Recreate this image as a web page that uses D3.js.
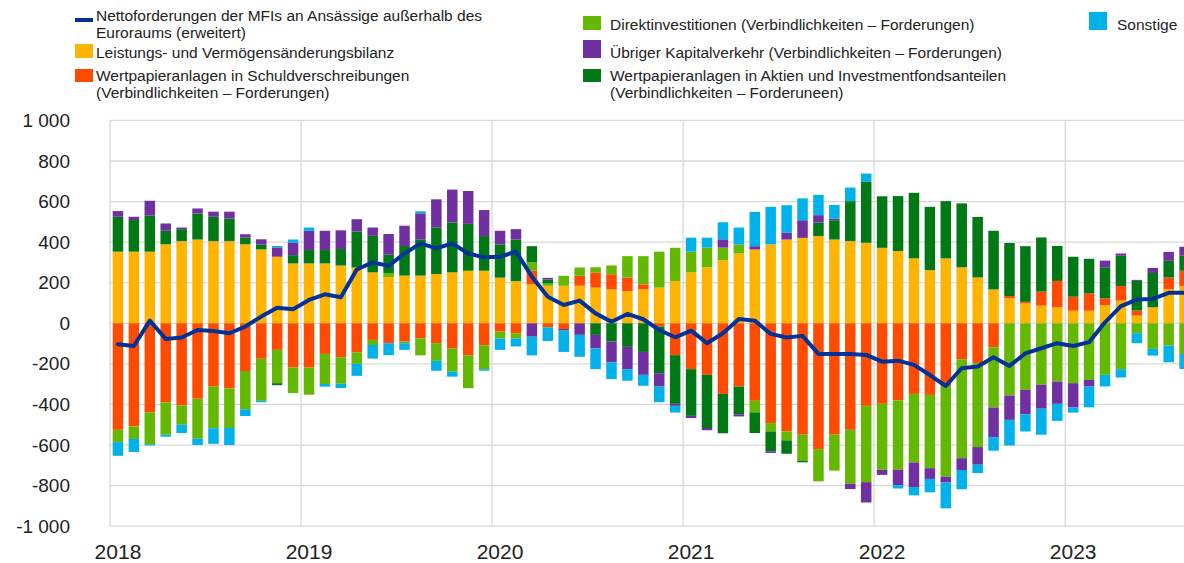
<!DOCTYPE html>
<html>
<head>
<meta charset="utf-8">
<script src="https://cdn.jsdelivr.net/npm/d3@7"></script>
<style>
  body { margin: 0; background: #fff; }
  svg { display: block; font-family: "Liberation Sans", Arial, sans-serif; }
</style>
</head>
<body>
<svg id="chart" width="1184" height="563"></svg>
<script>
// categories: monthly, Jan 2018 - Aug 2023
const years = [2018, 2019, 2020, 2021, 2022, 2023];
const nMonths = 68;

// series values (EUR bn)
const leistung = [353, 353, 353, 389, 405, 413, 405, 405, 389, 364, 328, 295,
  295, 295, 285, 275, 251, 228, 235, 235, 243, 251, 259, 259,
  225, 208, 192, 185, 185, 185, 176, 167, 159, 167, 176, 208,
  251, 276, 312, 344, 364, 389, 413, 421, 430, 413, 405, 397,
  372, 356, 320, 262, 320, 276, 226, 167, 123, 98, 87, 79,
  62, 62, 90, 112, 38, 79, 169, 184];
const schuld = [-525, -508, -440, -390, -405, -372, -312, -321, -235, -175, -131, -218,
  -218, -151, -167, -143, -82, -98, -90, -74, -98, -125, -159, -108,
  -41, -49, 67, -20, -28, 49, 75, 75, 67, 25, -16, -157,
  -226, -254, -348, -312, -382, -492, -533, -549, -620, -549, -525, -407,
  -397, -380, -348, -353, -309, -177, -197, -118, 11, 8, 69, 130,
  69, 85, 33, 72, 25, 0, 57, 75];
const direkt = [-61, -62, -156, -159, -95, -197, -205, -195, -189, -207, -164, -126,
  -134, -148, -131, -57, -25, 20, -8, -84, -87, -113, -161, -118,
  -34, -26, 41, 11, 49, 41, 25, 43, 105, 139, 177, 164,
  102, 97, 61, 44, -57, -41, -44, -128, -159, -177, -266, -376,
  -325, -341, -338, -361, -447, -488, -413, -297, -356, -328, -303, -287,
  -295, -279, -254, -226, -49, -126, -110, -151];
const aktien = [172, 156, 179, 67, 59, 128, 120, 112, 34, 25, -10, 41,
  66, 66, 81, 177, 180, 90, 146, 179, 230, 246, 231, 171,
  164, 205, 80, 20, 0, 0, -57, -90, -116, -141, -230, -240,
  -230, -262, -194, -136, -102, -98, -66, -8, 67, 95, 197, 300,
  254, 271, 323, 312, 282, 315, 298, 289, 262, 274, 267, 172,
  197, 171, 153, 149, 146, 169, 82, 74];
const uebriger = [28, 16, 72, 36, 8, 25, 25, 33, 16, 25, 46, 61,
  95, 95, 92, 61, 41, 102, 100, 128, 138, 162, 162, 128,
  67, 51, -66, 8, -8, -57, -67, -103, -110, -113, -66, -10,
  -11, -11, 41, -11, 16, -8, 33, 87, 36, 8, -26, -100,
  -25, -77, -121, -53, -28, -58, -87, -146, -120, -120, -118, -110,
  -120, -33, 33, 11, 5, 25, 44, 44];
const sonstige = [-67, -64, -6, -10, -41, -31, -77, -84, -33, -7, 7, 16,
  16, -13, -21, -59, -67, -59, -33, 10, -49, -25, 0, -8,
  -56, -39, -92, -67, -105, -108, -102, -82, -57, -54, -77, -33,
  69, 49, 84, 84, 169, 185, 136, 108, 100, 67, 67, 41,
  0, -16, -41, -66, -128, -95, -41, -67, -126, -85, -128, -84,
  -25, -102, -57, -41, -49, -33, -82, -74];
const netto = [-103, -112, 13, -77, -70, -33, -38, -49, -16, 33, 77, 69,
  115, 143, 128, 265, 300, 283, 344, 394, 369, 394, 344, 325,
  328, 353, 230, 131, 90, 112, 49, 8, 46, 20, -33, -69,
  -36, -98, -49, 21, 13, -52, -70, -62, -151, -151, -151, -156,
  -189, -184, -205, -255, -309, -221, -213, -167, -210, -148, -123, -98,
  -112, -93, 5, 85, 117, 120, 150, 150];

const yTicks = [-1000, -800, -600, -400, -200, 0, 200, 400, 600, 800, 1000];

// stacking order (bottom-up) and colours
const stackKeys = ["leistung", "schuld", "direkt", "aktien", "uebriger", "sonstige"];
const colors = {
  leistung: "#ffb400", schuld: "#ff4b00", direkt: "#65b800",
  aktien: "#007816", uebriger: "#7030a0", sonstige: "#00b1ea", netto: "#003299"
};

const months = d3.range(nMonths);
const rows = months.map(i => ({
  i,
  leistung: leistung[i], schuld: schuld[i], direkt: direkt[i],
  aktien: aktien[i], uebriger: uebriger[i], sonstige: sonstige[i]
}));

const svg = d3.select("#chart");
const plotLeft = 110, plotTop = 120.4, plotBottom = 526.2;
const step = 15.92;

const x = d3.scaleBand()
  .domain(months)
  .range([plotLeft, plotLeft + step * nMonths])
  .paddingInner(0.34)
  .paddingOuter(0.17);

const y = d3.scaleLinear().domain([-1000, 1000]).range([plotBottom, plotTop]);

const fmt = d3.formatLocale({ decimal: ",", thousands: " ", grouping: [3], currency: ["", "€"], minus: "-" }).format(",d");

// horizontal grid
svg.append("g")
  .selectAll("line")
  .data(yTicks)
  .join("line")
  .attr("x1", plotLeft).attr("x2", 1184)
  .attr("y1", d => y(d)).attr("y2", d => y(d))
  .attr("stroke", "#d9d9d9").attr("stroke-width", 1.3);

// vertical year lines
svg.append("g")
  .selectAll("line")
  .data(years)
  .join("line")
  .attr("x1", (d, k) => plotLeft + step * 12 * k)
  .attr("x2", (d, k) => plotLeft + step * 12 * k)
  .attr("y1", plotTop).attr("y2", plotBottom)
  .attr("stroke", "#d9d9d9").attr("stroke-width", 1.3);

// y axis labels
const yAxis = svg.append("g")
  .attr("transform", `translate(${plotLeft},0)`)
  .call(d3.axisLeft(y).tickValues(yTicks).tickSize(0).tickPadding(40).tickFormat(fmt));
yAxis.select(".domain").remove();
yAxis.selectAll("text")
  .style("font-size", "19px")
  .style("font-family", "Liberation Sans, Arial, sans-serif")
  .attr("fill", "#222");

// x labels (at January of each year)
svg.append("g")
  .selectAll("text")
  .data(years)
  .join("text")
  .attr("x", (d, k) => x(k * 12) + x.bandwidth() / 2)
  .attr("y", 559)
  .attr("text-anchor", "middle")
  .style("font-size", "21px")
  .attr("fill", "#222")
  .text(d => d);

// stacked bars
const series = d3.stack().keys(stackKeys).offset(d3.stackOffsetDiverging)(rows);

svg.append("g")
  .selectAll("g")
  .data(series)
  .join("g")
  .attr("fill", d => colors[d.key])
  .selectAll("rect")
  .data(d => d)
  .join("rect")
  .attr("x", d => x(d.data.i))
  .attr("width", x.bandwidth())
  .attr("y", d => y(Math.max(d[0], d[1])))
  .attr("height", d => Math.abs(y(d[0]) - y(d[1])));

// net claims line
const line = d3.line()
  .x((d, i) => x(i) + x.bandwidth() / 2)
  .y(d => y(d));

svg.append("path")
  .datum(netto)
  .attr("d", line)
  .attr("fill", "none")
  .attr("stroke", colors.netto)
  .attr("stroke-width", 4)
  .attr("stroke-linejoin", "round")
  .attr("stroke-linecap", "round");

// legend
const legend = svg.append("g").style("font-size", "15.5px").attr("fill", "#222");

const legendItems = [
  { key: "netto", x: 75, sy: 18, sh: 4, lines: ["Nettoforderungen der MFIs an Ansässige außerhalb des", "Euroraums (erweitert)"], ty: 20.5 },
  { key: "leistung", x: 75, sy: 44, sh: 14, lines: ["Leistungs- und Vermögensänderungsbilanz"], ty: 58 },
  { key: "schuld", x: 75, sy: 69, sh: 13, lines: ["Wertpapieranlagen in Schuldverschreibungen", "(Verbindlichkeiten – Forderungen)"], ty: 80.5 },
  { key: "direkt", x: 583, sy: 16, sh: 14, lines: ["Direktinvestitionen (Verbindlichkeiten – Forderungen)"], ty: 29.5 },
  { key: "uebriger", x: 583, sy: 40, sh: 18, lines: ["Übriger Kapitalverkehr (Verbindlichkeiten – Forderungen)"], ty: 57.5 },
  { key: "aktien", x: 583, sy: 69, sh: 13, lines: ["Wertpapieranlagen in Aktien und Investmentfondsanteilen", "(Verbindlichkeiten – Forderuneen)"], ty: 80.5 },
  { key: "sonstige", x: 1089, sy: 12, sh: 18, lines: ["Sonstige"], ty: 29.5 }
];

legendItems.forEach(it => {
  legend.append("rect")
    .attr("x", it.x).attr("y", it.sy)
    .attr("width", 18).attr("height", it.sh)
    .attr("fill", colors[it.key]);
  const tx = it.key === "sonstige" ? it.x + 28 : it.x + (it.x < 500 ? 21 : 27);
  const t = legend.append("text").attr("x", tx).attr("y", it.ty);
  it.lines.forEach((s, k) => {
    t.append("tspan").attr("x", tx).attr("dy", k === 0 ? 0 : 17).text(s);
  });
});
</script>
</body>
</html>
